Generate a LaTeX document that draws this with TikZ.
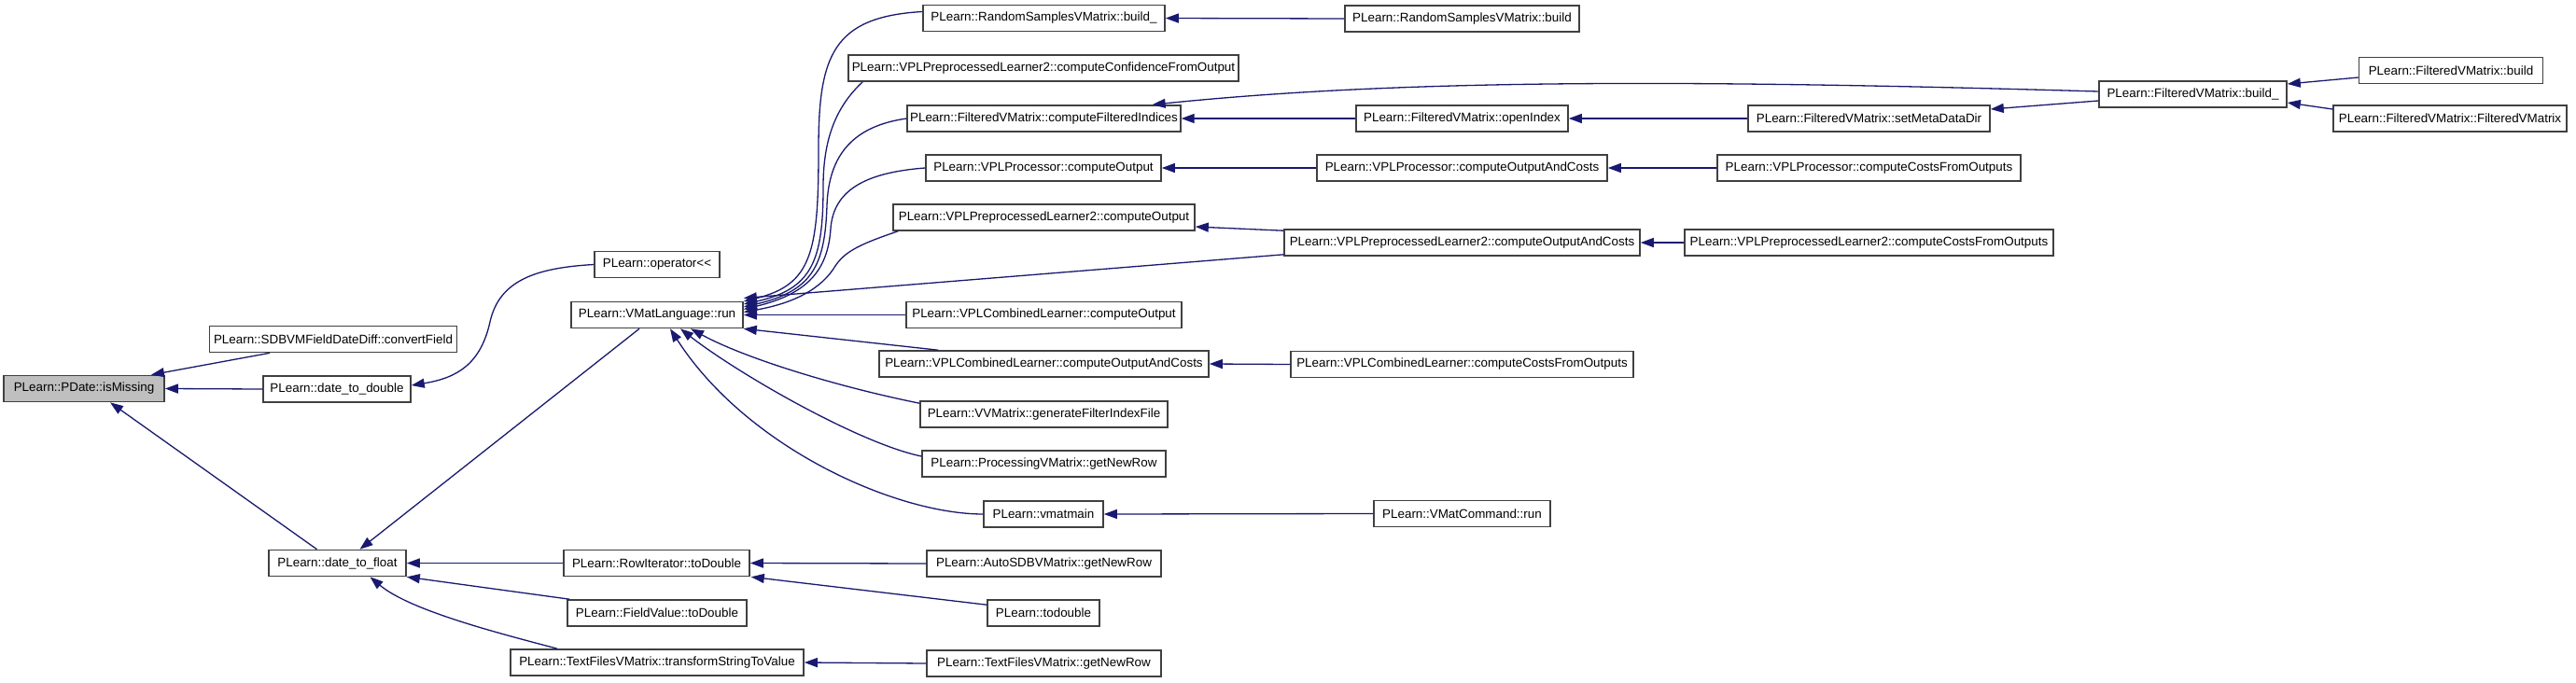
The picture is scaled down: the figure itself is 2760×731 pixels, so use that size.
\documentclass[tikz,border=0pt]{standalone}
\usepackage{fontspec}
\setmainfont{Liberation Sans}
\usetikzlibrary{arrows.meta,calc}
\definecolor{edgec}{HTML}{191970}
\definecolor{boxgray}{HTML}{BFBFBF}
\definecolor{boxline}{HTML}{404040}
\begin{document}
\begin{tikzpicture}[x=1pt,y=-1pt,
  box/.style={draw=boxline, line width=1.6pt, fill=white, minimum height=28pt,
    inner xsep=3pt, inner ysep=0pt, font=\fontsize{13.4}{16}\selectfont},
  edge/.style={draw=edgec, line width=1.3pt, -{Triangle[length=14pt,width=10pt]}}]
\useasboundingbox (0,0) rectangle (2760,731);
\fill[white] (0,0) rectangle (2760,731);
% rank 0
\node[box, minimum width=172pt, fill=boxgray] (miss) at (90,416.5) {PLearn::PDate::isMissing};
% rank 1
\node[box, minimum width=265pt] (conv) at (357,363.5) {PLearn::SDBVMFieldDateDiff::convertField};
\node[box, minimum width=158pt] (d2d) at (361,417) {PLearn::date\_to\_double};
\node[box, minimum width=147pt] (d2f) at (361.5,603.5) {PLearn::date\_to\_float};
% rank 2
\node[box, minimum width=134pt] (opl) at (704,283.5) {PLearn::operator<\kern0pt<};
\node[box, minimum width=184pt] (run) at (704,337.5) {PLearn::VMatLanguage::run};
\node[box, minimum width=199pt] (rit) at (703.5,603.5) {PLearn::RowIterator::toDouble};
\node[box, minimum width=192pt] (fvt) at (704,657) {PLearn::FieldValue::toDouble};
\node[box, minimum width=314pt] (tsv) at (704,710) {PLearn::TextFilesVMatrix::transformStringToValue};
% rank 3
\node[box, minimum width=259pt] (rsbu) at (1118.5,19.5) {PLearn::RandomSamplesVMatrix::build\_};
\node[box, minimum width=418pt] (ccf) at (1118,73) {PLearn::VPLPreprocessedLearner2::computeConfidenceFromOutput};
\node[box, minimum width=288pt] (cfi) at (1118.5,127) {PLearn::FilteredVMatrix::computeFilteredIndices};
\node[box, minimum width=252pt] (pco) at (1118,180) {PLearn::VPLProcessor::computeOutput};
\node[box, minimum width=323pt] (p2co) at (1118.5,233) {PLearn::VPLPreprocessedLearner2::computeOutput};
\node[box, minimum width=295pt] (clco) at (1118.5,337.5) {PLearn::VPLCombinedLearner::computeOutput};
\node[box, minimum width=353pt] (cloc) at (1118.5,390) {PLearn::VPLCombinedLearner::computeOutputAndCosts};
\node[box, minimum width=265pt] (gfi) at (1118.5,444) {PLearn::VVMatrix::generateFilterIndexFile};
\node[box, minimum width=261pt] (pvm) at (1118.5,497) {PLearn::ProcessingVMatrix::getNewRow};
\node[box, minimum width=128pt] (vmm) at (1118,551) {PLearn::vmatmain};
\node[box, minimum width=251pt] (asd) at (1118.5,604) {PLearn::AutoSDBVMatrix::getNewRow};
\node[box, minimum width=120pt] (tod) at (1118,657) {PLearn::todouble};
\node[box, minimum width=251pt] (tfg) at (1118.5,711) {PLearn::TextFilesVMatrix::getNewRow};
% rank 4
\node[box, minimum width=251pt] (rsb) at (1566.5,20) {PLearn::RandomSamplesVMatrix::build};
\node[box, minimum width=227pt] (oi) at (1566.5,127) {PLearn::FilteredVMatrix::openIndex};
\node[box, minimum width=311pt] (poc) at (1566.5,180) {PLearn::VPLProcessor::computeOutputAndCosts};
\node[box, minimum width=381pt] (p2oc) at (1566.5,260) {PLearn::VPLPreprocessedLearner2::computeOutputAndCosts};
\node[box, minimum width=367pt] (clcc) at (1566.5,390.5) {PLearn::VPLCombinedLearner::computeCostsFromOutputs};
\node[box, minimum width=189pt] (vmc) at (1566.5,550.5) {PLearn::VMatCommand::run};
% rank 5
\node[box, minimum width=259pt] (smd) at (2002.5,127) {PLearn::FilteredVMatrix::setMetaDataDir};
\node[box, minimum width=325pt] (pcc) at (2002.5,180) {PLearn::VPLProcessor::computeCostsFromOutputs};
\node[box, minimum width=395pt] (p2cc) at (2002.5,260) {PLearn::VPLPreprocessedLearner2::computeCostsFromOutputs};
% rank 6, 7
\node[box, minimum width=201pt] (fbu) at (2349.5,101) {PLearn::FilteredVMatrix::build\_};
\node[box, minimum width=197pt] (fb) at (2626,75.5) {PLearn::FilteredVMatrix::build};
\node[box, minimum width=250pt] (ffv) at (2625,127) {PLearn::FilteredVMatrix::FilteredVMatrix};

% edges into isMissing
\draw[edge] ($(conv.south)+(-68,0)$) -- ($(miss.north)+(72,0)$);
\draw[edge] (d2d.west) -- (miss.east);
\draw[edge] ($(d2f.north)+(-22,0)$) -- ($(miss.south)+(28,0)$);
% into date_to_double
\draw[edge] (opl.west) .. controls (575,287) and (535,300) .. (525,345)
  .. controls (515,390) and (490,405) .. ($(d2d.east)+(0,-4)$);
% into date_to_float
\draw[edge] ($(run.south)+(-19,0)$) -- ($(d2f.north)+(24,0)$);
\draw[edge] (rit.west) -- (d2f.east);
\draw[edge] ($(fvt.north west)+(3,0)$) -- (d2f.south east);
\draw[edge] ($(tsv.north)+(-107,0)$) .. controls (540,680) and (440,655) .. ($(d2f.south)+(35,0)$);
% into RowIterator / transformStringToValue
\draw[edge] (asd.west) -- (rit.east);
\draw[edge] ($(tod.north west)+(0,6)$) -- ($(rit.south east)+(1,0)$);
\draw[edge] (tfg.west) -- (tsv.east);
% into vmatmain
\draw[edge] (vmc.west) -- (vmm.east);
% into VMatLanguage::run
\draw[edge] (vmm.west) .. controls (960,551) and (800,480) .. ($(run.south)+(14,0)$);
\draw[edge] ($(pvm.west)+(0,-8)$) .. controls (920,475) and (790,400) .. ($(run.south)+(25,0)$);
\draw[edge] ($(gfi.north west)+(0,3)$) .. controls (900,415) and (800,385) .. ($(run.south)+(36,0)$);
\draw[edge] ($(cloc.north west)+(64,0)$) -- (run.south east);
\draw[edge] (clco.west) -- (run.east);
\draw[edge] ($(p2oc.south west)+(0,-2)$) -- ($(run.east)+(0,-18)$);
\draw[edge] ($(rsbu.west)+(0,-7)$) .. controls (892,18) and (877,60) .. (877,160)
  .. controls (877,270) and (870,305) .. ($(run.east)+(0,-14.5)$);
\draw[edge] ($(ccf.south west)+(16,0)$) .. controls (895,115) and (882,150) .. (882,200)
  .. controls (882,280) and (870,310) .. ($(run.east)+(0,-11.5)$);
\draw[edge] (cfi.west) .. controls (915,135) and (888,165) .. (886,220)
  .. controls (884,285) and (870,312) .. ($(run.east)+(0,-8.5)$);
\draw[edge] (pco.west) .. controls (925,185) and (893,205) .. (890,245)
  .. controls (887,290) and (865,315) .. ($(run.east)+(0,-6)$);
\draw[edge] ($(p2co.south west)+(6,0)$) .. controls (920,262) and (905,270) .. (895,285)
  .. controls (880,310) and (850,325) .. ($(run.east)+(0,-3)$);
% rank 3 <- rank 4
\draw[edge] (rsb.west) -- (rsbu.east);
\draw[edge] (oi.west) -- (cfi.east);
\draw[edge] (poc.west) -- (pco.east);
\draw[edge] ($(p2oc.north west)+(0,2)$) -- ($(p2co.east)+(0,10)$);
\draw[edge] (clcc.west) -- (cloc.east);
% rank 4 <- rank 5
\draw[edge] (smd.west) -- (oi.east);
\draw[edge] (pcc.west) -- (poc.east);
\draw[edge] (p2cc.west) -- (p2oc.east);
% from FilteredVMatrix::build_
\draw[edge] ($(fbu.west)+(0,7)$) -- ($(smd.east)+(0,-10)$);
\draw[edge] ($(fbu.west)+(0,-3)$) .. controls (1800,85) and (1500,85) .. ($(cfi.north east)+(-31,0)$);
% into build_
\draw[edge] ($(fb.west)+(0,7.5)$) -- ($(fbu.east)+(0,-11)$);
\draw[edge] ($(ffv.west)+(0,-10)$) -- ($(fbu.east)+(0,9)$);
\end{tikzpicture}
\end{document}
